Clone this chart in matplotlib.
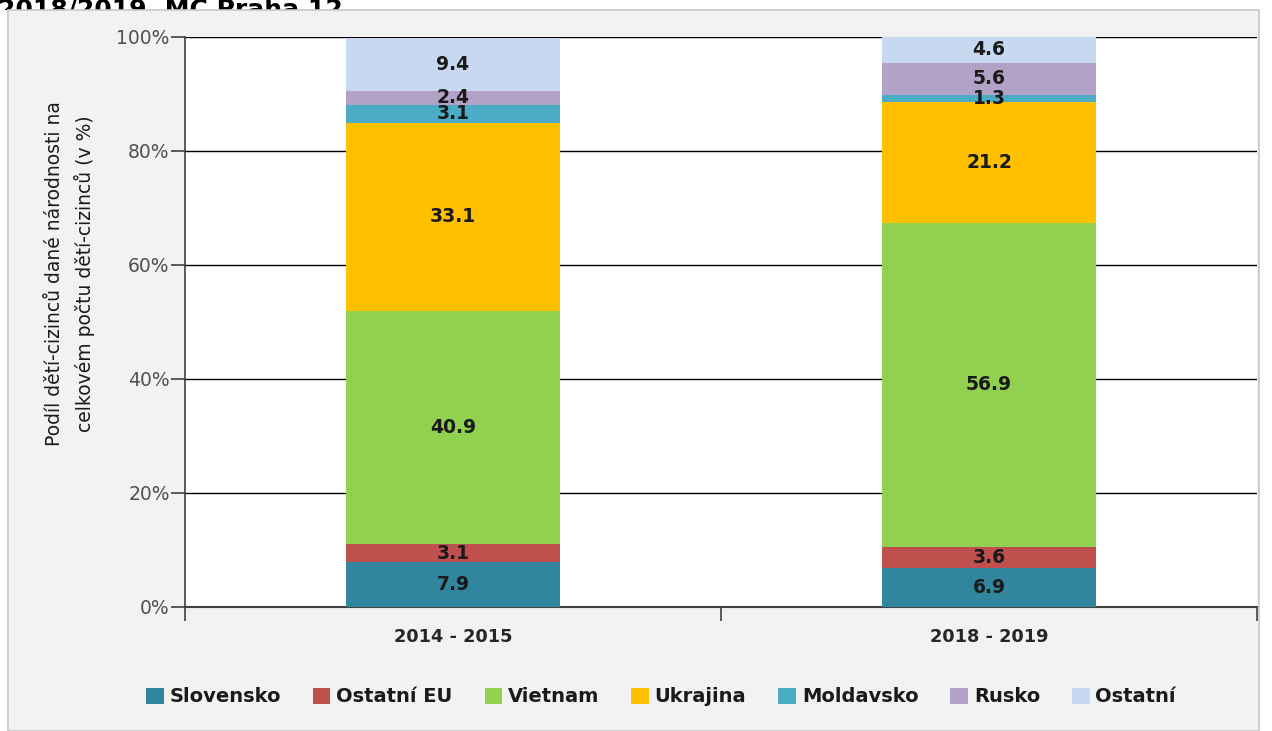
import matplotlib
matplotlib.use("Agg")
import matplotlib.pyplot as plt
from matplotlib.patches import Rectangle
import numpy as np

categories = ["2014 - 2015", "2018 - 2019"]
series = ["Slovensko", "Ostatní EU", "Vietnam", "Ukrajina", "Moldavsko", "Rusko", "Ostatní"]
slovensko = [7.9, 6.9]
ostatni_eu = [3.1, 3.6]
vietnam = [40.9, 56.9]
ukrajina = [33.1, 21.2]
moldavsko = [3.1, 1.3]
rusko = [2.4, 5.6]
ostatni = [9.4, 4.6]
values = [slovensko, ostatni_eu, vietnam, ukrajina, moldavsko, rusko, ostatni]
colors = ["#31859C", "#C0504D", "#92D050", "#FFC000", "#4BACC6", "#B3A2C7", "#C6D9F1"]
yticks = [0, 20, 40, 60, 80, 100]
ytick_labels = ["0%", "20%", "40%", "60%", "80%", "100%"]

W, H = 1272, 731
fig = plt.figure(figsize=(W / 100, H / 100), dpi=100)
fig.patch.set_facecolor("white")

# gray chart panel
fig.patches.append(Rectangle((8 / W, 0), (1259 - 8) / W, (H - 10) / H,
                             transform=fig.transFigure, facecolor="#F2F2F2",
                             edgecolor="#C8C8C8", linewidth=1.2, zorder=0.8))

# title strip: only the upper part of the title shows above the panel (as in the source)
ax_t = fig.add_axes([0, 1 - 9.5 / H, 1, 9.5 / H])
ax_t.set_axis_off()
ax_t.set_xlim(0, W)
ax_t.set_ylim(9.5, 0)
ax_t.text(-2, 17, "2018/2019, MČ Praha 12", fontsize=18, fontweight="bold",
          ha="left", va="baseline", color="black", clip_on=True)

ax = fig.add_axes([185 / W, (H - 607) / H, (1257 - 185) / W, (607 - 37) / H])
ax.set_facecolor("white")
ax.set_zorder(1)

x = np.arange(len(categories))
bottom = np.zeros(len(categories))
for name, vals, col in zip(series, values, colors):
    vals = np.array(vals)
    ax.bar(x, vals, width=0.4, bottom=bottom, color=col, label=name, zorder=3)
    for xi, b, v in zip(x, bottom, vals):
        ax.text(xi, b + v / 2, f"{v:.1f}", ha="center", va="center",
                fontsize=13.5, fontweight="bold", color="#1A1A1A", zorder=4)
    bottom += vals

ax.set_xlim(-0.5, 1.5)
ax.set_ylim(0, 100)
ax.set_yticks(yticks)
ax.set_yticklabels(ytick_labels)
ax.yaxis.grid(True, color="black", linewidth=1.0, zorder=1)
ax.set_axisbelow(True)

ax.set_xticks(x)
ax.set_xticklabels(categories, fontsize=12.8, fontweight="bold", color="#262626")
ax.set_xticks([-0.5, 0.5, 1.5], minor=True)
ax.tick_params(axis="x", which="major", length=0, pad=15)
ax.tick_params(axis="x", which="minor", length=10, width=1.2, color="#404040", direction="out")
ax.tick_params(axis="y", length=10, width=1.2, color="#404040", direction="out",
               labelsize=13.5, labelcolor="#505050", pad=1)

for s in ["top", "right"]:
    ax.spines[s].set_visible(False)
ax.spines["left"].set_color("#404040")
ax.spines["left"].set_linewidth(1.2)
ax.spines["bottom"].set_color("#404040")
ax.spines["bottom"].set_linewidth(1.5)

fig.text(70 / W, 1 - 274 / H,
         "Podíl dětí-cizinců dané národnosti na\ncelkovém počtu dětí-cizinců (v %)",
         rotation=90, ha="center", va="center", fontsize=13.5, color="#1A1A1A",
         linespacing=1.55)

handles, labels = ax.get_legend_handles_labels()
fig.legend(handles, labels, loc="center", bbox_to_anchor=(661 / W, 1 - 697 / H),
           ncol=7, frameon=False, prop={"size": 14, "weight": "bold"},
           handlelength=0.9, handleheight=0.9, handletextpad=0.3, columnspacing=1.65,
           labelcolor="#1A1A1A")

fig.savefig("out.png", dpi=100)
